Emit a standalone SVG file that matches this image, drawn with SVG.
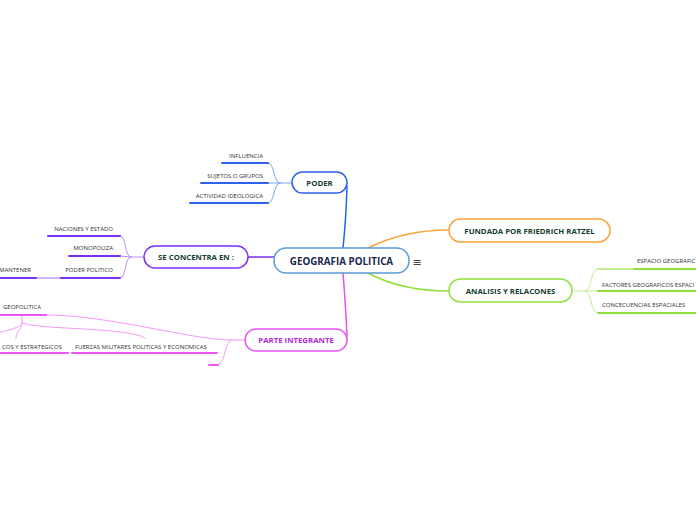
<svg xmlns="http://www.w3.org/2000/svg" width="696" height="520" viewBox="0 0 696 520">
<style>
.bg{fill:#ffffff}
.node rect{fill:#ffffff;stroke-width:1.5}
.nt{font-family:"Open Sans","Noto Sans",sans-serif;font-weight:bold;font-size:7.8px;fill:#143d2e;text-anchor:middle;dominant-baseline:central}
.ct{font-family:"Open Sans","Noto Sans",sans-serif;font-weight:bold;font-size:9.8px;fill:#1a2850;text-anchor:middle;dominant-baseline:central}
.lt{font-family:"Open Sans","Noto Sans",sans-serif;font-size:6px;fill:#333333}
.r{text-anchor:end}
.c path,.c line{fill:none;stroke-linecap:round}
.ul{stroke-width:2}
.main{stroke-width:1.5}
.thin{stroke-width:1}
</style>
<rect class="bg" x="0" y="0" width="696" height="520"/>
<g id="connectors" class="c">
  <path class="main" d="M347,186 Q346,220 343,248" stroke="#2563eb"/>
  <path class="main" d="M343,273 Q346,310 347,337" stroke="#e84ff0"/>
  <path class="main" d="M368,248 C392,236 420,230 449,230" stroke="#f9a23a"/>
  <path class="main" d="M368,273 C392,286 420,291 449,291" stroke="#8fe03a"/>
  <line class="main" x1="248" y1="257" x2="274" y2="257" stroke="#7b2ff7"/>
  <g stroke="#7fa6f5">
    <line class="thin" x1="292" y1="183" x2="280" y2="183"/>
    <path class="thin" d="M280,183 C273,183 275,163 268,163"/>
    <path class="thin" d="M280,183 L268,183"/>
    <path class="thin" d="M280,183 C273,183 275,203 268,203"/>
  </g>
  <g stroke="#2f62ea">
    <line class="ul" x1="222" y1="163" x2="268" y2="163"/>
    <line class="ul" x1="201" y1="183" x2="268" y2="183"/>
    <line class="ul" x1="190" y1="203" x2="268" y2="203"/>
  </g>
  <g stroke="#b48cf7">
    <line class="thin" x1="144" y1="257" x2="131" y2="257"/>
    <path class="thin" d="M131,257 C124,257 127,236 120,236"/>
    <path class="thin" d="M131,257 L120,256"/>
    <path class="thin" d="M131,257 C124,257 127,278 120,278"/>
    <line class="thin" x1="36" y1="278" x2="62" y2="278" stroke="#9c6cf5"/>
  </g>
  <g stroke="#7b2ff7">
    <line class="ul" x1="48" y1="236" x2="120" y2="236"/>
    <line class="ul" x1="69" y1="256" x2="120" y2="256"/>
    <line class="ul" x1="61" y1="278" x2="120" y2="278"/>
    <line class="ul" x1="0" y1="278" x2="36" y2="278"/>
  </g>
  <g stroke="#f29af7">
    <line class="thin" x1="245" y1="340" x2="232" y2="340"/>
    <path class="thin" d="M232,340 C190,340 110,315 46,315"/>
    <path class="thin" d="M232,340 C224,340 226,364 218,364"/>
    <line class="thin" x1="22" y1="315" x2="22" y2="323"/>
    <path class="thin" d="M22,323 C20,328 10,330 -4,333"/>
    <path class="thin" d="M22,323 C22,330 16,331 16,338"/>
    <path class="thin" d="M22,323 C40,330 128,327 145,338"/>
  </g>
  <g stroke="#ee55f5">
    <line class="ul" x1="0" y1="315" x2="46" y2="315"/>
    <line class="ul" x1="0" y1="353" x2="68" y2="353"/>
    <line class="ul" x1="72" y1="353" x2="217" y2="353"/>
    <line class="ul" x1="209" y1="365" x2="218" y2="365"/>
  </g>
  <g stroke="#c2f293">
    <line class="thin" x1="572" y1="291" x2="585" y2="291"/>
    <path class="thin" d="M585,291 C592,291 590,269 598,269"/>
    <path class="thin" d="M585,291 L598,291"/>
    <path class="thin" d="M585,291 C592,291 590,313 598,313"/>
    <line class="ul" x1="598" y1="269" x2="634" y2="269"/>
  </g>
  <g stroke="#8fe03a">
    <line class="ul" x1="634" y1="269" x2="696" y2="269"/>
    <line class="ul" x1="598" y1="291" x2="696" y2="291"/>
    <line class="ul" x1="598" y1="313" x2="696" y2="313"/>
  </g>
</g>
<g id="central" class="node">
  <rect x="274" y="248" width="135" height="25" rx="12" stroke="#5a9bd8"/>
  <text class="ct" x="341.5" y="261">GEOGRAFIA POLITICA</text>
  <text x="417" y="262" font-family="DejaVu Sans,sans-serif" font-size="11" fill="#444" text-anchor="middle" dominant-baseline="central">≡</text>
</g>
<g id="poder" class="node">
  <rect x="292" y="172" width="55" height="21" rx="10.5" stroke="#2f62ea"/>
  <text class="nt" x="319.5" y="183">PODER</text>
</g>
<g id="se-concentra" class="node">
  <rect x="144" y="246" width="104" height="22" rx="11" stroke="#7b2ff7"/>
  <text class="nt" x="196" y="257">SE CONCENTRA EN :</text>
</g>
<g id="parte-integrante" class="node">
  <rect x="245" y="329" width="102" height="22" rx="11" stroke="#ee55f5"/>
  <text class="nt" x="296" y="340" style="fill:#b41fe0">PARTE INTEGRANTE</text>
</g>
<g id="fundada" class="node">
  <rect x="449" y="219" width="161" height="23" rx="11.5" stroke="#f9a23a"/>
  <text class="nt" x="529.5" y="230.5">FUNDADA POR FRIEDRICH RATZEL</text>
</g>
<g id="analisis" class="node">
  <rect x="449" y="279" width="123" height="23" rx="11.5" stroke="#8fe03a"/>
  <text class="nt" x="510.5" y="290.5">ANALISIS Y RELACONES</text>
</g>
<g id="influencia"><text class="lt r" x="263" y="158">INFLUENCIA</text></g>
<g id="sujetos"><text class="lt r" x="263" y="178">SUJETOS O GRUPOS</text></g>
<g id="actividad"><text class="lt r" x="263" y="198">ACTIVIDAD IDEOLOGICA</text></g>
<g id="naciones"><text class="lt r" x="113" y="231">NACIONES Y ESTADO</text></g>
<g id="monopoliza"><text class="lt r" x="113" y="250">MONOPOLIZA</text></g>
<g id="poder-politico"><text class="lt r" x="113" y="272">PODER POLITICO</text></g>
<g id="mantener"><text class="lt r" x="31" y="272">MANTENER</text></g>
<g id="geopolitica"><text class="lt" x="3" y="309">GEOPOLITICA</text></g>
<g id="estrategicos"><text class="lt r" x="62" y="349">COS Y ESTRATEGICOS</text></g>
<g id="fuerzas"><text class="lt" x="75" y="349">FUERZAS MILITARES POLITICAS Y ECONOMICAS</text></g>
<g id="empty-child"></g>
<g id="espacio"><text class="lt" x="637" y="263">ESPACIO GEOGRAFIC</text></g>
<g id="factores"><text class="lt" x="602" y="287">FACTORES GEOGRAFICOS ESPACI</text></g>
<g id="concecuencias"><text class="lt" x="602" y="307">CONCECUENCIAS ESPACIALES</text></g>
</svg>
